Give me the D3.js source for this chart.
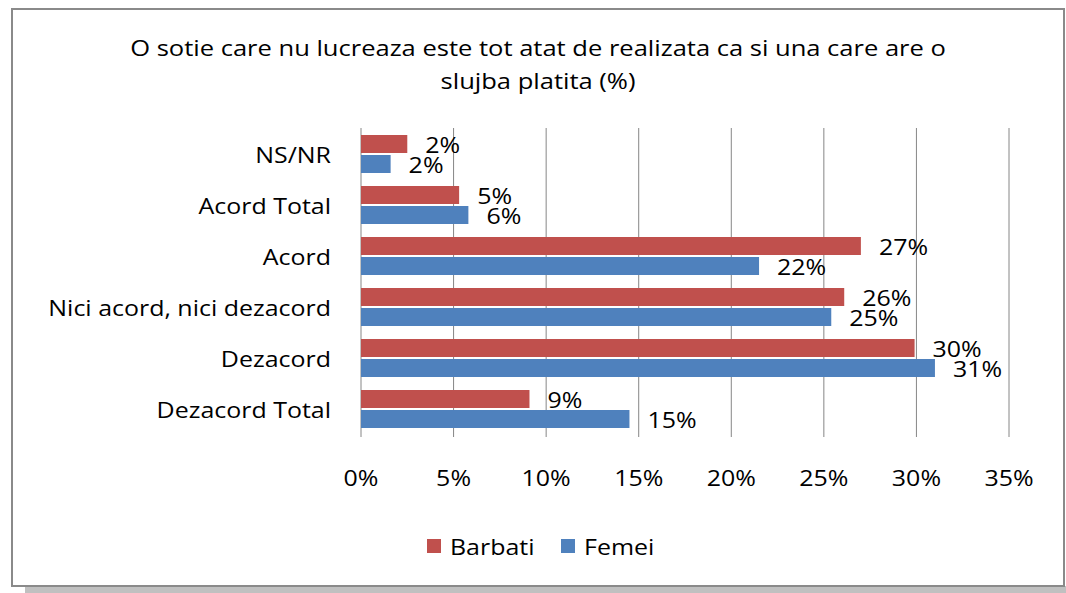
<!DOCTYPE html>
<html><head><meta charset="utf-8">
<script src="https://cdn.jsdelivr.net/npm/d3@7"></script>
<style>html,body{margin:0;padding:0;background:#fff;} svg{display:block;}</style>
</head><body>
<script>
const categories = ["NS/NR","Acord Total","Acord","Nici acord, nici dezacord","Dezacord","Dezacord Total"];
const seriesNames = ["Barbati","Femei"];
const barbati = [2.5, 5.3, 27.0, 26.1, 29.9, 9.1];
const femei = [1.6, 5.8, 21.5, 25.4, 31.0, 14.5];
const barbatiLabels = ["2%","5%","27%","26%","30%","9%"];
const femeiLabels = ["2%","6%","22%","25%","31%","15%"];
const ticks = [0,5,10,15,20,25,30,35];
const titleLines = ["O sotie care nu lucreaza este tot atat de realizata ca si una care are o","slujba platita (%)"];
const colors = ["#C0504D","#4F81BD"];

const W=1066,H=593;
const font = "'Open Sans', sans-serif";
const FS = 22.5, SX = 1.11;
const svg = d3.select("body").append("svg").attr("width",W).attr("height",H);

function txt(sel){
  return sel.attr("font-family",font).attr("font-size",FS).attr("fill","#000");
}
function place(sel, fx, fy, sx){
  return sel.attr("transform",(d,i)=>`translate(${fx(d,i)},${fy(d,i)}) scale(${sx||SX},1)`);
}

// shadow + frame
svg.append("rect").attr("x",25).attr("y",586).attr("width",W-25).attr("height",7).attr("fill","#c0c0c0");
svg.append("rect").attr("x",12).attr("y",9).attr("width",1052).attr("height",577)
  .attr("fill","#fff").attr("stroke","#8a8a8a").attr("stroke-width",2);

// title
place(txt(svg.append("g").selectAll("text").data(titleLines).join("text"))
  .attr("text-anchor","middle").text(d=>d), ()=>538, (d,i)=>56+i*33, 1.135);

const x = d3.scaleLinear().domain([0,35]).range([361,1009]);
const y = d3.scaleBand().domain(categories).range([128.5,434.5]);
const inner = d3.scaleBand().domain(seriesNames).range([6.5,44.5]).paddingInner(0.1);

// gridlines
svg.append("g").selectAll("line").data(ticks).join("line")
  .attr("x1",d=>x(d)).attr("x2",d=>x(d)).attr("y1",128).attr("y2",437)
  .attr("stroke","#868686").attr("stroke-width",1);

// tick labels
place(txt(svg.append("g").selectAll("text").data(ticks).join("text"))
  .attr("text-anchor","middle").text(d=>d+"%"), d=>x(d), ()=>486);

// category labels
place(txt(svg.append("g").selectAll("text").data(categories).join("text"))
  .attr("text-anchor","end").text(d=>d), ()=>331, d=>y(d)+y.bandwidth()/2+8.5);

const series = [barbati,femei];
const labels = [barbatiLabels,femeiLabels];
series.forEach((vals,si)=>{
  const g = svg.append("g");
  g.selectAll("rect").data(vals).join("rect")
    .attr("x",x(0)).attr("y",(d,i)=>y(categories[i])+inner(seriesNames[si]))
    .attr("width",d=>x(d)-x(0)).attr("height",inner.bandwidth())
    .attr("fill",colors[si]);
  place(txt(g.selectAll("text").data(vals).join("text")).text((d,i)=>labels[si][i]),
    d=>x(d)+18, (d,i)=>y(categories[i])+inner(seriesNames[si])+inner.bandwidth()/2+8.5);
});

// legend
const leg = svg.append("g");
const legX = [427,561];
seriesNames.forEach((n,i)=>{
  leg.append("rect").attr("x",legX[i]).attr("y",539).attr("width",14).attr("height",14).attr("fill",colors[i]);
  place(txt(leg.append("text").datum(n)).text(n), ()=>legX[i]+23, ()=>555);
});
</script>
</body></html>
